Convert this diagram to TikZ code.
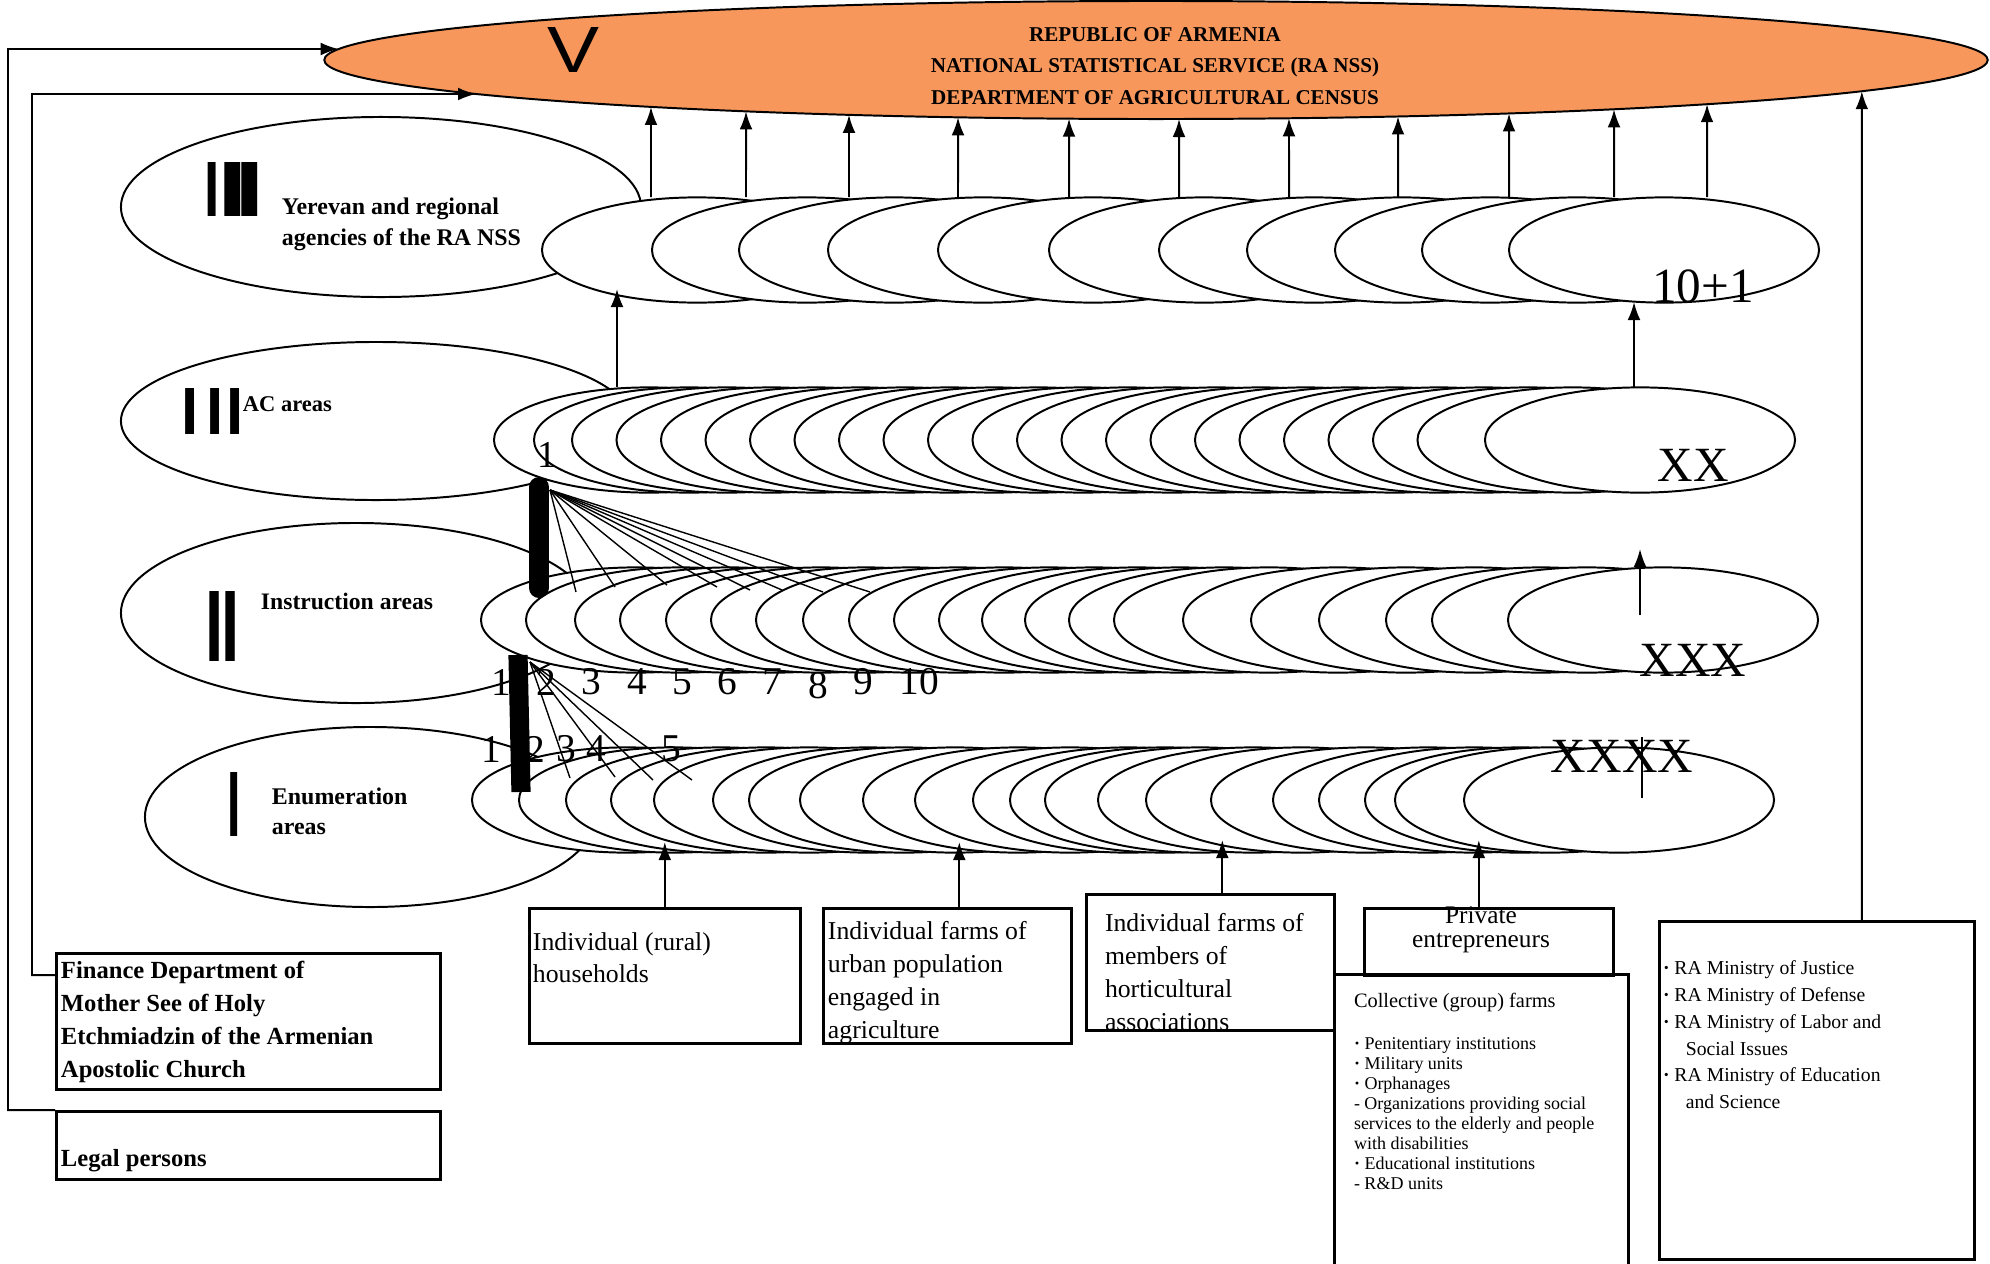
\documentclass[tikz,border=0pt]{standalone}
\usepackage{graphicx}
\usepackage{fontspec}
\setmainfont{Liberation Serif}
\setsansfont{Liberation Sans}
\usetikzlibrary{shapes.geometric,arrows.meta,intersections,calc}

\definecolor{nssorange}{RGB}{247,151,92}

% one unit = one pixel of the 1990x1263 layout (0.025cm)
\newcommand{\romanbar}[2]{%
  \pgfmathsetlengthmacro{\barw}{#1*0.0476cm}%
  \pgfmathsetlengthmacro{\barh}{#2*0.025cm}%
  \resizebox{\barw}{\barh}{\sffamily\bfseries I}}
\newcommand{\fs}[2]{\fontsize{#1}{#2}\selectfont}

\begin{document}
\begin{tikzpicture}[x=0.025cm,y=-0.025cm,line width=1.4pt,
  >={Latex[length=0.45cm,width=0.32cm]},
  oval/.style={draw,ellipse,fill=white,inner sep=0pt},
  cell/.style={oval,minimum width=7.75cm,minimum height=2.63cm},
  frame/.style={draw,line width=1.8pt,inner sep=0pt,anchor=north west},
  lvltext/.style={anchor=north west,inner sep=0pt,align=left,font=\bfseries\fs{17pt}{22pt}},
  boxtext/.style={anchor=north west,inner sep=0pt,align=left,font=\fs{18.3pt}{23.5pt}},
  countnum/.style={inner sep=0pt,font=\fs{28pt}{28pt}},
  romannum/.style={inner sep=0pt,font=\fs{35pt}{35pt}},
  barnode/.style={inner sep=0pt}]

\useasboundingbox (0,0) rectangle (1990,1263);
\clip (0,0) rectangle (1990,1263);

% level V
\node[draw,ellipse,fill=nssorange,inner sep=0pt,minimum width=41.575cm,minimum height=2.95cm,name path=nssrim] (nss) at (1156,60) {};
\node[align=center,font=\bfseries\fs{15pt}{22.4pt}] (nsstitle) at (1155,66)
  {REPUBLIC OF ARMENIA\\NATIONAL STATISTICAL SERVICE (RA NSS)\\DEPARTMENT OF AGRICULTURAL CENSUS};
\node[barnode] (vmark) at (574,50) {\resizebox{1.3cm}{1.125cm}{\sffamily V}};

% levels on the left
\node[oval,minimum width=13cm,minimum height=4.5cm] (agl) at (381,207) {};
\node[oval,minimum width=12.75cm,minimum height=3.95cm] (acl) at (376,421) {};
\node[oval,minimum width=11.75cm,minimum height=4.5cm] (insl) at (356,613) {};
\node[oval,minimum width=11.25cm,minimum height=4.5cm] (enul) at (370,817) {};

\foreach \x/\y/\w/\h in {212/189/8/54,233/189/16/54,250/189/16/54,
    190/411/9/46,215/411/9/46,235/411/9/46,
    215/626/9.5/70,230.5/626/9.5/70,
    234.5/804/7/64}
  \node[barnode] at (\x,\y) {\romanbar{\w}{\h}};

\node[lvltext] (agltext) at (281,197) {Yerevan and regional\\agencies of the RA NSS};
\node[lvltext,font=\bfseries\fs{16pt}{22pt}] (acltext) at (242,396) {AC areas};
\node[lvltext,font=\bfseries\fs{16.8pt}{22pt}] (insltext) at (260,592) {Instruction areas};
\node[lvltext,font=\bfseries\fs{17pt}{21.3pt}] (enultext) at (271,787) {Enumeration\\areas};

% rows of areas
\foreach \x [count=\i] in {697,807,894,983,1093,1204,1314,1402,1490,1577,1664}
  \node[cell] (ag\i) at (\x,250) {};
\foreach \x [count=\i] in {649,689,727,771.5,816,860.5,905,949.5,994,1038.5,1083,1127.5,
    1172,1216.5,1261,1305.5,1350,1394.5,1439,1483.5,1528,1572.5,1640}
  \node[cell] (ac\i) at (\x,440) {};
\foreach \x [count=\i] in {636,681,730,775,821,866,911,958,1004,1049,1094,1137,
    1180,1224,1269,1338,1406,1474,1541,1587,1663}
  \node[cell] (ins\i) at (\x,620) {};
\foreach \x [count=\i] in {627,674,721,766,809,868,904,955,1018,1070,1128,1165,
    1200,1253,1301,1366,1428,1474,1520,1550,1619}
  \node[cell] (enu\i) at (\x,800) {};

\node[romannum] (n101) at (1703,286) {10+1};
\node[romannum] (nxx) at (1693,465) {XX};
\node[romannum] (nxxx) at (1693,660) {XXX};
\node[romannum] (nxxxx) at (1622,756) {XXXX};

% links between rows
\draw[->] (617,387) -- (617,289);
\draw[->] (1634,387) -- (1634,302);
\draw[->] (1640,615) -- (1640,549);
\draw (1642,737) -- (1642,798);

% fan from area 1 down to instruction areas
\draw[line width=0.5cm,line cap=round] (539,487) -- (539,588);
\coordinate (fan1) at (550,490);
\foreach \x/\y in {576/592,615/587,667/585,717/587,750/590,782/590,823/592,870/592}
  \draw[line width=1pt] (fan1) -- (\x,\y);
\node[countnum,font=\fs{27pt}{27pt}] (acno) at (547,455) {1};

% fan from instruction area 1 down to enumeration areas
\draw[line width=0.48cm] (518,655) -- (521,792);
\coordinate (fan2) at (530,662);
\foreach \x/\y in {570/778,615/777,653/780,692/780}
  \draw[line width=1pt] (fan2) -- (\x,\y);

\foreach \x/\y/\n in {501/682/1,546/682/2,591/682/3,637/682/4,682/682/5,727/682/6,
    772/682/7,818/686/8,863/682/9,919/682/10}
  \node[countnum] (ia\n) at (\x,\y) {\n};
\foreach \x/\n in {491/1,535/2,566/3,596/4,671/5}
  \node[countnum] (ea\n) at (\x,749) {\n};

% agencies up to the NSS
\foreach \x in {651,746,849,958,1069,1179,1289,1398,1509,1614,1707}{
  \path[name path=riser] (\x,197) -- (\x,60);
  \draw[->,name intersections={of=riser and nssrim}] (\x,197) -- (intersection-1);
}

% respondents
\node[frame,minimum width=9.6cm,minimum height=3.4cm] (fin) at (55,952) {};
\node[frame,minimum width=9.6cm,minimum height=1.7cm] (legal) at (55,1110) {};
\node[frame,minimum width=6.775cm,minimum height=3.375cm] (rural) at (528,907) {};
\node[frame,minimum width=6.2cm,minimum height=3.375cm] (urban) at (822,907) {};
\node[frame,minimum width=6.2cm,minimum height=3.4cm] (hort) at (1085,893) {};
\node[frame,minimum width=7.35cm,minimum height=8cm] (coll) at (1333,973) {};
\node[frame,minimum width=6.225cm,minimum height=1.675cm] (priv) at (1363,907) {};
\node[frame,minimum width=7.875cm,minimum height=8.45cm] (mini) at (1658,920) {};

\node[boxtext,font=\bfseries\fs{17.5pt}{23.5pt}] (fintext) at (60,960)
  {Finance Department of\\Mother See of Holy\\Etchmiadzin of the Armenian\\Apostolic Church};
\node[boxtext,font=\bfseries\fs{17.5pt}{23.5pt}] (legaltext) at (60,1148) {Legal persons};
\node[boxtext,font=\fs{18.3pt}{22.8pt}] (ruraltext) at (532,932) {Individual (rural)\\households};
\node[boxtext] (urbantext) at (827,920) {Individual farms of\\urban population\\engaged in\\agriculture};
\node[boxtext] (horttext) at (1104,912) {Individual farms of\\members of\\horticultural\\associations};
\node[inner sep=0pt,anchor=north,align=center,font=\fs{18pt}{17pt}] (privtext) at (1481,906) {Private\\entrepreneurs};
\node[boxtext,font=\fs{14.5pt}{17pt}] (colltitle) at (1353,992) {Collective (group) farms};
\node[boxtext,font=\fs{12.8pt}{14.2pt}] (colllist) at (1353,1037)
  {\textbf{·} Penitentiary institutions\\\textbf{·} Military units\\\textbf{·} Orphanages\\- Organizations providing social\\services to the elderly and people\\with disabilities\\\textbf{·} Educational institutions\\- R\&D units};
\node[boxtext,font=\fs{14pt}{19pt}] (minitext) at (1662,960)
  {\textbf{·} RA Ministry of Justice\\\textbf{·} RA Ministry of Defense\\\textbf{·} RA Ministry of Labor and\\\hspace*{0.57cm}Social Issues\\\textbf{·} RA Ministry of Education\\\hspace*{0.57cm}and Science};

\draw[->] (rural.north) -- ++(0,-65);
\draw[->] ($(urban.north)+(12,0)$) -- ++(0,-65);
\draw[->] ($(hort.north)+(12,0)$) -- ++(0,-53);
\draw[->] ($(priv.north)+(-10,0)$) -- ++(0,-67);

\path[name path=minirise] ($(mini.north)+(45,0)$) -- ++(0,-860);
\draw[->,name intersections={of=minirise and nssrim}] ($(mini.north)+(45,0)$) -- (intersection-1);

\path[name path=finlane] (32,94) -- (1156,94);
\draw[->,name intersections={of=finlane and nssrim,by=finend}]
  ($(fin.north west)+(0,23)$) -- (32,975) -- (32,94) -- (finend);
\path[name path=legallane] (8,49) -- (1156,49);
\draw[->,name intersections={of=legallane and nssrim,by=legalend}]
  (legal.north west) -- (8,1110) -- (8,49) -- (legalend);

\end{tikzpicture}
\end{document}
